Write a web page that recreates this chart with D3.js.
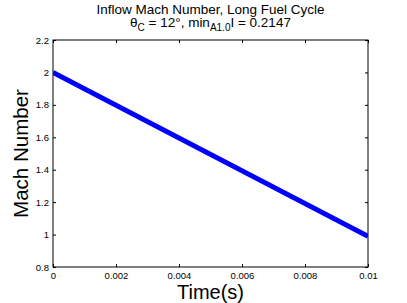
<!DOCTYPE html>
<html>
<head>
<meta charset="utf-8">
<script src="https://cdn.jsdelivr.net/npm/d3@7"></script>
<style>
  body { margin: 0; background: #fff; }
  text { font-family: "Liberation Sans", Arial, sans-serif; }
</style>
</head>
<body>
<div id="chart"></div>
<script>
// data
const times = [0, 0.01];
const mach = [2.0, 0.99];
const xTicks = [0, 0.002, 0.004, 0.006, 0.008, 0.01];
const yTicks = [0.8, 1, 1.2, 1.4, 1.6, 1.8, 2, 2.2];

const width = 407, height = 303;
const margin = { top: 40, right: 39, bottom: 36, left: 53 };

const svg = d3.select('#chart').append('svg')
  .attr('width', width)
  .attr('height', height);

const x = d3.scaleLinear().domain([0, 0.01]).range([margin.left, width - margin.right]);
const y = d3.scaleLinear().domain([0.8, 2.2]).range([height - margin.bottom, margin.top]);

// ticks inside, MATLAB style
const tl = 3;
svg.append('g')
  .attr('transform', `translate(0,${height - margin.bottom})`)
  .call(d3.axisBottom(x).tickValues(xTicks).tickSize(-tl).tickPadding(5).tickFormat(d3.format('~g')))
  .call(g => g.select('.domain').remove())
  .call(g => g.selectAll('text').attr('font-size', '9.5px').attr('fill', '#000'));

svg.append('g')
  .attr('transform', `translate(${margin.left},0)`)
  .call(d3.axisLeft(y).tickValues(yTicks).tickSize(-tl).tickPadding(4).tickFormat(d3.format('~g')))
  .call(g => g.select('.domain').remove())
  .call(g => g.selectAll('text').attr('font-size', '9.5px').attr('fill', '#000'));

// top and right ticks
svg.append('g')
  .attr('transform', `translate(0,${margin.top})`)
  .call(d3.axisTop(x).tickValues(xTicks).tickSize(-tl).tickFormat(''))
  .call(g => g.select('.domain').remove());
svg.append('g')
  .attr('transform', `translate(${width - margin.right},0)`)
  .call(d3.axisRight(y).tickValues(yTicks).tickSize(-tl).tickFormat(''))
  .call(g => g.select('.domain').remove());

svg.append('rect')
  .attr('x', margin.left).attr('y', margin.top)
  .attr('width', x(0.01) - x(0)).attr('height', y(0.8) - y(2.2))
  .attr('fill', 'none').attr('stroke', '#000').attr('stroke-width', 1);

const data = times.map((t, i) => ({ t: t, m: mach[i] }));
const line = d3.line().x(d => x(d.t)).y(d => y(d.m));

svg.append('defs').append('clipPath').attr('id', 'clip')
  .append('rect')
  .attr('x', margin.left).attr('y', margin.top)
  .attr('width', x(0.01) - x(0)).attr('height', y(0.8) - y(2.2));

svg.append('path')
  .datum(data)
  .attr('d', line)
  .attr('clip-path', 'url(#clip)')
  .attr('fill', 'none')
  .attr('stroke', '#0000ff')
  .attr('stroke-width', 5);

// titles
const cx = (x(0) + x(0.01)) / 2;
svg.append('text')
  .attr('x', cx).attr('y', 14)
  .attr('text-anchor', 'middle').attr('font-size', '13.5px')
  .text('Inflow Mach Number, Long Fuel Cycle');

const t2 = svg.append('text')
  .attr('x', cx).attr('y', 27)
  .attr('text-anchor', 'middle').attr('font-size', '13.5px');
t2.append('tspan').text('θ');
t2.append('tspan').attr('dy', 4).attr('font-size', '10px').text('C');
t2.append('tspan').attr('dy', -4).text(' = 12°, min');
t2.append('tspan').attr('dy', 4).attr('font-size', '10px').text('A1.0');
t2.append('tspan').attr('dy', -4).text('I = 0.2147');

svg.append('text')
  .attr('x', cx).attr('y', 299)
  .attr('text-anchor', 'middle').attr('font-size', '20px')
  .text('Time(s)');

svg.append('text')
  .attr('transform', `translate(28,${(y(0.8) + y(2.2)) / 2}) rotate(-90)`)
  .attr('text-anchor', 'middle').attr('font-size', '20.5px')
  .text('Mach Number');
</script>
</body>
</html>
